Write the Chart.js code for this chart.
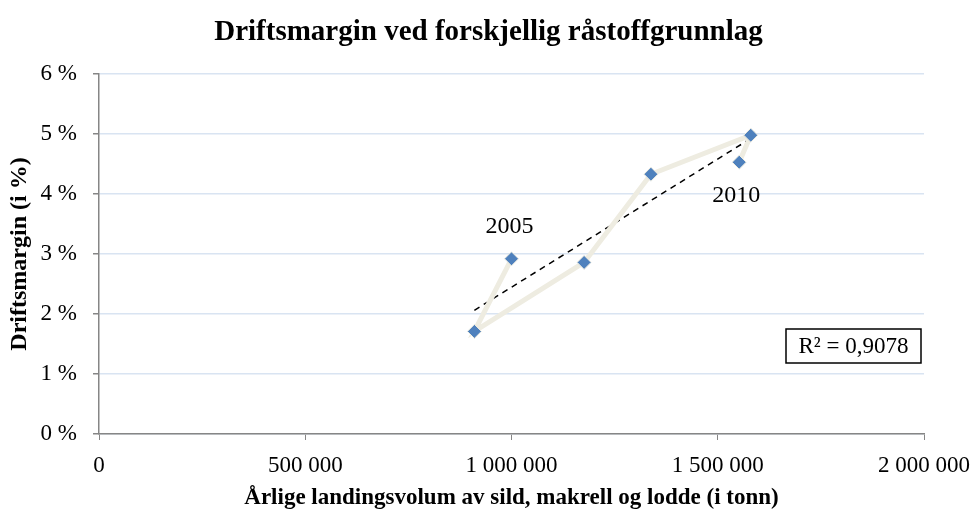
<!DOCTYPE html>
<html>
<head>
<meta charset="utf-8">
<script src="https://cdn.jsdelivr.net/npm/chart.js@4"></script>
<style>
  html, body { margin: 0; padding: 0; background: #fff; }
  #wrap { width: 975px; height: 510px; }
</style>
</head>
<body>
<div id="wrap"><canvas id="chart" width="975" height="510"></canvas></div>
<script>
// Data, one point per year 2005-2010
const years = [2005, 2006, 2007, 2008, 2009, 2010];
const volumes = [1000000, 910000, 1176000, 1338000, 1580000, 1552000];   // tonn
const margins = [2.92, 1.71, 2.86, 4.33, 4.98, 4.53];                    // %
const labelledYears = [2005, 2010];
const r2Label = "R² = 0,9078";

const serif = "'Liberation Serif', 'Times New Roman', serif";
const axisGray = "#868686";

const points = volumes.map((v, i) => ({ x: v, y: margins[i] }));

// Least squares trend line over the points
function trend(pts) {
  const n = pts.length;
  const mx = pts.reduce((s, p) => s + p.x, 0) / n;
  const my = pts.reduce((s, p) => s + p.y, 0) / n;
  let sxy = 0, sxx = 0;
  pts.forEach((p) => { sxy += (p.x - mx) * (p.y - my); sxx += (p.x - mx) ** 2; });
  const b = sxy / sxx, a = my - b * mx;
  const xMin = Math.min(...pts.map((p) => p.x));
  const xMax = Math.max(...pts.map((p) => p.x));
  return [{ x: xMin, y: a + b * xMin }, { x: xMax, y: a + b * xMax }];
}

function spaced(n) {
  return String(n).replace(/\B(?=(\d{3})+(?!\d))/g, " ");
}

// Year labels next to the first and last point, plus the R² box
const annotations = {
  id: "annotations",
  afterDatasetsDraw(chart) {
    const ctx = chart.ctx;
    const meta = chart.getDatasetMeta(1);
    ctx.save();
    ctx.font = "24px " + serif;
    ctx.fillStyle = "#000";
    ctx.textAlign = "center";
    ctx.textBaseline = "middle";
    years.forEach((yr, i) => {
      if (!labelledYears.includes(yr)) return;
      const el = meta.data[i];
      if (i === 0) ctx.fillText(String(yr), el.x - 2, el.y - 32);
      else ctx.fillText(String(yr), el.x - 3, el.y + 34);
    });

    const area = chart.chartArea;
    ctx.font = "23px " + serif;
    const w = 135;
    const h = 34;
    const bx = area.right - 3 - w;
    const by = area.top + 255;
    ctx.fillStyle = "#fff";
    ctx.fillRect(bx, by, w, h);
    ctx.strokeStyle = "#000";
    ctx.lineWidth = 1.5;
    ctx.strokeRect(bx, by, w, h);
    ctx.fillStyle = "#000";
    ctx.fillText(r2Label, bx + w / 2, by + h / 2 + 1);
    ctx.restore();
  },
};

const ctx = document.getElementById("chart").getContext("2d");
new Chart(ctx, {
  type: "scatter",
  data: {
    datasets: [
      {
        label: "Trend",
        data: trend(points),
        showLine: true,
        borderColor: "#000",
        borderWidth: 1.5,
        borderDash: [6, 5],
        pointRadius: 0,
        order: 1,
      },
      {
        label: "Driftsmargin",
        data: points,
        showLine: true,
        borderColor: "#EEECE1",
        borderWidth: 5,
        pointStyle: "rectRot",
        pointRadius: 7,
        pointBackgroundColor: "#4F81BD",
        pointBorderColor: "#EEECE1",
        pointBorderWidth: 1,
        order: 0,
      },
    ],
  },
  options: {
    responsive: false,
    animation: false,
    layout: { padding: { left: 2, right: 0, top: 8, bottom: 0 } },
    plugins: {
      legend: { display: false },
      tooltip: { enabled: false },
      title: {
        display: true,
        text: "Driftsmargin ved forskjellig råstoffgrunnlag",
        color: "#000",
        font: { family: serif, size: 29, weight: "bold", lineHeight: 1 },
        padding: { top: 10, bottom: 27 },
      },
    },
    scales: {
      x: {
        type: "linear",
        min: 0,
        max: 2000000,
        afterBuildTicks: (axis) => {
          axis.ticks = [0, 500000, 1000000, 1500000, 2000000].map((v) => ({ value: v }));
        },
        ticks: {
          color: "#000",
          font: { family: serif, size: 23, lineHeight: 1 },
          maxRotation: 0,
          padding: 14,
          callback: (v) => spaced(v),
        },
        grid: { drawOnChartArea: false, drawTicks: true, tickLength: 6, tickColor: axisGray },
        border: { color: axisGray, width: 1.5 },
        title: {
          display: true,
          text: "Årlige landingsvolum av sild, makrell og lodde (i tonn)",
          color: "#000",
          font: { family: serif, size: 23, weight: "bold", lineHeight: 1 },
          padding: { top: 7, bottom: 0 },
        },
        afterFit: (axis) => {
          axis.height = 76;
          axis.paddingLeft = 0;
          axis.paddingRight = 51;
        },
      },
      y: {
        min: 0,
        max: 6,
        ticks: {
          stepSize: 1,
          color: "#000",
          font: { family: serif, size: 23 },
          padding: 16,
          callback: (v) => v + " %",
        },
        grid: { color: "#D9E4F2", lineWidth: 1.5, tickLength: 6, tickColor: axisGray },
        border: { color: axisGray, width: 1.5 },
        title: {
          display: true,
          text: "Driftsmargin (i %)",
          color: "#000",
          font: { family: serif, size: 24, weight: "bold" },
          padding: { top: 3, bottom: 4 },
        },
        afterFit: (axis) => { axis.width = 97; },
      },
    },
  },
  plugins: [annotations],
});
</script>
</body>
</html>
